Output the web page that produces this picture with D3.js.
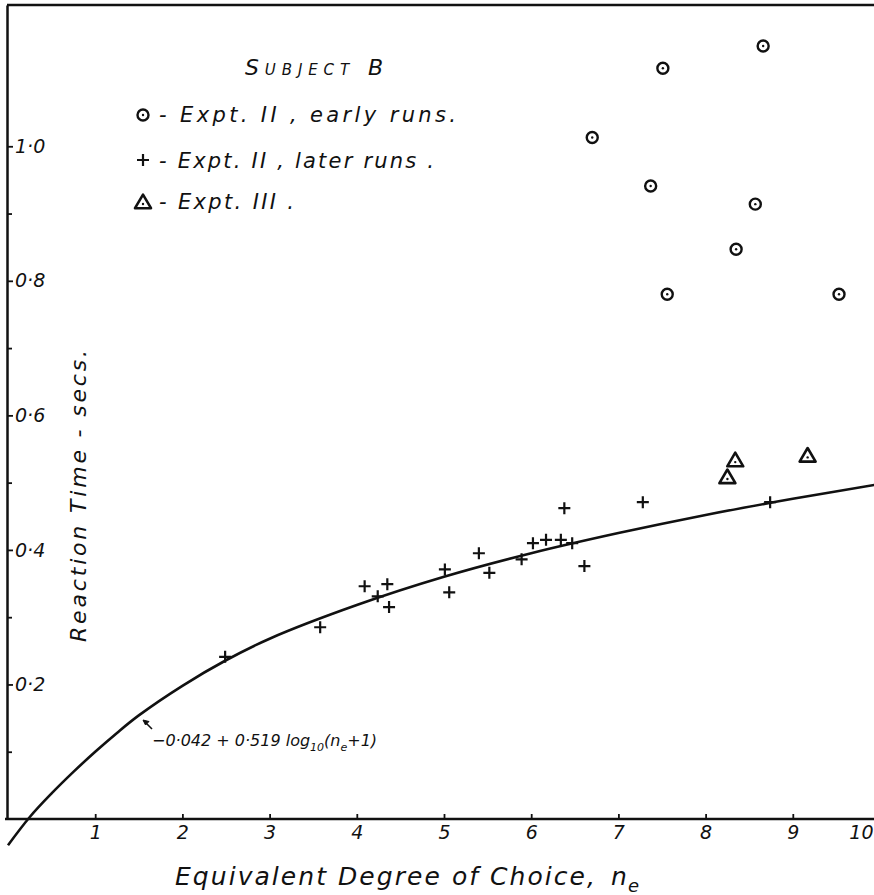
<!DOCTYPE html>
<html>
<head>
<meta charset="utf-8">
<script src="https://cdn.jsdelivr.net/npm/d3@7"></script>
<style>
  html, body { margin: 0; padding: 0; background: #fff; overflow: hidden; }
  svg { display: block; }
  text { font-family: "DejaVu Sans", "Liberation Sans", sans-serif; font-style: oblique; fill: #111; }
</style>
</head>
<body>
<svg id="chart" width="874" height="895"></svg>
<script>
// ---- data ----
const earlyX = [8.66, 7.51, 6.70, 7.37, 8.57, 8.35, 7.56, 9.53];
const earlyY = [1.149, 1.116, 1.013, 0.941, 0.914, 0.847, 0.780, 0.780];

const laterX = [2.49, 3.58, 4.09, 4.35, 4.24, 4.37, 5.01, 5.06, 5.40, 5.52, 5.89, 6.02, 6.17, 6.34, 6.47, 6.38, 6.61, 7.28, 8.74];
const laterY = [0.241, 0.285, 0.346, 0.349, 0.331, 0.315, 0.371, 0.337, 0.395, 0.366, 0.386, 0.410, 0.415, 0.415, 0.410, 0.462, 0.376, 0.471, 0.471];

const expt3X = [8.34, 8.25, 9.17];
const expt3Y = [0.532, 0.507, 0.539];

// fitted curve, sampled off the drawn line
const curveX = [0, 0.25, 0.5, 0.75, 1, 1.25, 1.5, 2, 2.5, 3, 4, 5, 6, 7, 8, 9, 10];
const curveY = [-0.039, 0.003, 0.038, 0.070, 0.100, 0.128, 0.154, 0.198, 0.236, 0.268, 0.318, 0.360, 0.395, 0.425, 0.452, 0.476, 0.498];

const xTicks = [1, 2, 3, 4, 5, 6, 7, 8, 9, 10];
const yMajorTicks = [0.2, 0.4, 0.6, 0.8, 1.0];
const yMinorTicks = [0.1, 0.3, 0.5, 0.7, 0.9];
const yTickLabels = ["0·2", "0·4", "0·6", "0·8", "1·0"];

const legendLabels = ["- Expt. II , early runs.", "- Expt. II , later runs .", "- Expt. III ."];

// ---- scales ----
const svg = d3.select("#chart");
const x = d3.scaleLinear().domain([0, 10]).range([8, 880]);
const y = d3.scaleLinear().domain([0, 1.21]).range([819, 5]);
const ink = "#111";

// frame: top border
svg.append("line")
  .attr("x1", x(0) - 1).attr("x2", 874)
  .attr("y1", y(1.21)).attr("y2", y(1.21))
  .attr("stroke", ink).attr("stroke-width", 2.5);

// x axis
const xAxis = d3.axisBottom(x).tickValues(xTicks).tickSize(-5).tickSizeOuter(0).tickPadding(7)
  .tickFormat(d3.format("d"));
const gx = svg.append("g").attr("transform", `translate(0,${y(0)})`).call(xAxis);
gx.select(".domain").attr("stroke", ink).attr("stroke-width", 2.5).attr("d", `M${x(0) - 3},0H874`);
gx.selectAll(".tick line").attr("stroke", ink).attr("stroke-width", 1.8);
gx.selectAll(".tick text").attr("font-size", 19).attr("font-family", "DejaVu Sans").attr("font-style", "oblique").attr("fill", ink);
// last label sits against the right edge, as in the reference
gx.selectAll(".tick").filter(d => d === 10).select("text")
  .attr("text-anchor", "end").attr("x", 873 - x(10));

// y axis (ticks point inward, labels inside)
const yAxis = d3.axisRight(y).tickValues(yMajorTicks).tickSize(6).tickSizeOuter(0).tickPadding(2)
  .tickFormat((d, i) => yTickLabels[i]);
const gy = svg.append("g").attr("transform", `translate(${x(0) - 1},0)`).call(yAxis);
gy.select(".domain").attr("stroke", ink).attr("stroke-width", 2.5);
gy.selectAll(".tick line").attr("stroke", ink).attr("stroke-width", 1.8);
gy.selectAll(".tick text").attr("font-size", 19).attr("font-family", "DejaVu Sans").attr("font-style", "oblique").attr("fill", ink);

const yMinor = d3.axisRight(y).tickValues(yMinorTicks).tickSize(5).tickFormat("");
const gym = svg.append("g").attr("transform", `translate(${x(0) - 1},0)`).call(yMinor);
gym.select(".domain").remove();
gym.selectAll(".tick line").attr("stroke", ink).attr("stroke-width", 1.8);

// ---- fitted curve ----
const curvePts = curveX.map((v, i) => [v, curveY[i]]);
svg.append("path")
  .datum(curvePts)
  .attr("fill", "none").attr("stroke", ink).attr("stroke-width", 2.6)
  .attr("d", d3.line().x(d => x(d[0])).y(d => y(d[1])).curve(d3.curveCatmullRom.alpha(0.5)));

// ---- markers ----
function drawCircle(g, cx, cy) {
  g.append("circle").attr("cx", cx).attr("cy", cy).attr("r", 5.5)
    .attr("fill", "none").attr("stroke", ink).attr("stroke-width", 2.4);
  g.append("circle").attr("cx", cx).attr("cy", cy).attr("r", 1.2).attr("fill", ink);
}
function drawPlus(g, cx, cy) {
  g.append("path").attr("d", `M${cx - 6},${cy}H${cx + 6}M${cx},${cy - 6}V${cy + 6}`)
    .attr("stroke", ink).attr("stroke-width", 2.2).attr("fill", "none");
}
function drawTri(g, cx, cy) {
  const s = 8;
  g.append("path").attr("d", `M${cx},${cy - s * 1.05}L${cx + s},${cy + s * 0.65}L${cx - s},${cy + s * 0.65}Z`)
    .attr("fill", "none").attr("stroke", ink).attr("stroke-width", 2.6).attr("stroke-linejoin", "round");
  g.append("circle").attr("cx", cx).attr("cy", cy + 1).attr("r", 1.2).attr("fill", ink);
}

const gm = svg.append("g");
earlyX.forEach((v, i) => drawCircle(gm, x(v), y(earlyY[i])));
laterX.forEach((v, i) => drawPlus(gm, x(v), y(laterY[i])));
expt3X.forEach((v, i) => drawTri(gm, x(v), y(expt3Y[i])));

// ---- legend ----
svg.append("text").attr("x", 245).attr("y", 75)
  .attr("font-size", 22).style("font-variant", "small-caps")
  .attr("textLength", 138).attr("lengthAdjust", "spacing")
  .text("Subject B");

const legY = [115, 160, 203];
const legBase = [122, 168, 209];
const legEnd = [456, 434, 294];
drawCircle(svg, 143, legY[0]);
drawPlus(svg, 143, legY[1]);
drawTri(svg, 143, legY[2]);
legendLabels.forEach((t, i) => {
  svg.append("text").attr("x", 159).attr("y", legBase[i])
    .attr("font-size", 21)
    .attr("textLength", legEnd[i] - 159).attr("lengthAdjust", "spacing")
    .text(t);
});

// ---- curve annotation ----
const ann = svg.append("text").attr("x", 152).attr("y", 746).attr("font-size", 16);
ann.append("tspan").text("−0·042 + 0·519 log");
ann.append("tspan").attr("font-size", 11).attr("dy", 5).text("10");
ann.append("tspan").attr("dy", -5).text("(n");
ann.append("tspan").attr("font-size", 11).attr("dy", 5).text("e");
ann.append("tspan").attr("dy", -5).text("+1)");

// arrow to the curve
svg.append("path").attr("d", "M152,729L144,721").attr("stroke", ink).attr("stroke-width", 1.6);
svg.append("path").attr("d", "M143,720L149,721.5L145.5,725Z").attr("fill", ink).attr("stroke", ink).attr("stroke-width", 1);

// ---- axis titles ----
svg.append("text").attr("x", 175).attr("y", 885).attr("font-size", 25)
  .attr("textLength", 420).attr("lengthAdjust", "spacing")
  .text("Equivalent Degree of Choice,");
svg.append("text").attr("x", 611).attr("y", 885).attr("font-size", 25).text("n");
svg.append("text").attr("x", 628).attr("y", 892).attr("font-size", 18).text("e");

svg.append("text")
  .attr("transform", "translate(86,496) rotate(-90)")
  .attr("text-anchor", "middle")
  .attr("font-size", 22)
  .attr("textLength", 292).attr("lengthAdjust", "spacing")
  .text("Reaction Time - secs.");
</script>
</body>
</html>
